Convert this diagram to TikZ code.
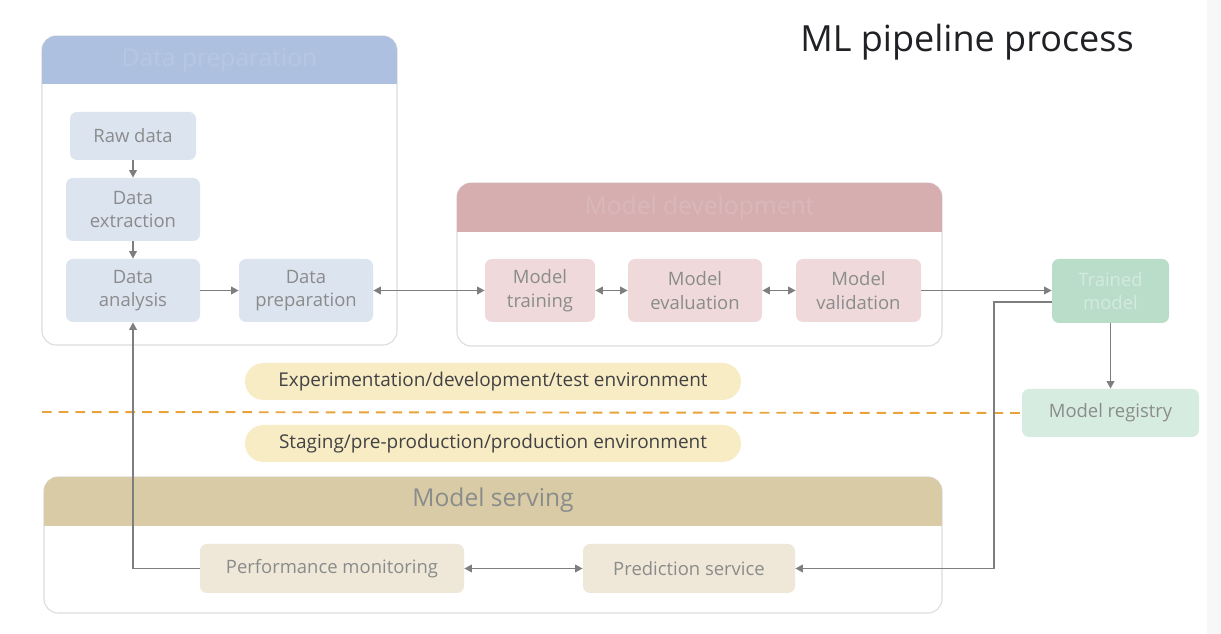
\documentclass[tikz,border=0pt]{standalone}
\usepackage{fontspec}
\setmainfont{Open Sans}
\usetikzlibrary{arrows.meta}
\definecolor{arrowgray}{HTML}{7E7E7E}
\definecolor{txtgray}{HTML}{8A8C8C}
\definecolor{panelborder}{HTML}{DCDCDC}
\definecolor{bluehead}{HTML}{ADC0DF}
\definecolor{bluetxt}{HTML}{B6C7E3}
\definecolor{bluebox}{HTML}{DCE4F0}
\definecolor{redhead}{HTML}{D7AEB0}
\definecolor{redtxt}{HTML}{D9B8BA}
\definecolor{redbox}{HTML}{EFD9DA}
\definecolor{greenbox}{HTML}{B9DDC8}
\definecolor{greentxt}{HTML}{D3EBDD}
\definecolor{greenlight}{HTML}{D7ECE1}
\definecolor{goldhead}{HTML}{D9CBA6}
\definecolor{goldbox}{HTML}{EFE7D7}
\definecolor{pill}{HTML}{F8ECC5}
\definecolor{dashorange}{HTML}{E8A33A}
\definecolor{titletxt}{HTML}{202124}
\begin{document}
\begin{tikzpicture}[x=0.02cm,y=-0.02cm,
  panel/.style={draw=panelborder, line width=0.6pt, fill=white, rounded corners=0.28cm},
  headtxt/.style={font=\fontsize{14}{16}\selectfont},
  box/.style={rounded corners=0.14cm, align=center, text=txtgray,
    font=\fontsize{10.5}{13.5}\selectfont, inner sep=0pt},
  pillbox/.style={rounded corners=0.37cm, fill=pill, text=titletxt!85,
    font=\fontsize{10.8}{13}\selectfont, minimum width=496*0.02cm, minimum height=37*0.02cm},
  arr/.style={draw=arrowgray, line width=1pt},
  tip/.style={-{Triangle[length=0.15cm,width=0.15cm]}},
  tips/.style={{Triangle[length=0.15cm,width=0.15cm]}-{Triangle[length=0.15cm,width=0.15cm]}}
]
\useasboundingbox (0,0) rectangle (1221,634);
\fill[white] (0,0) rectangle (1221,634);
\fill[black!3] (1207,0) rectangle (1221,634);

% Title
\node[font=\fontsize{20.5}{24}\selectfont, text=titletxt] (title) at (967,42) {ML pipeline process};

% ---------- Data preparation panel ----------
\node[panel, minimum width=355*0.02cm, minimum height=309*0.02cm] (dpp) at (219.5,190.5) {};
\begin{scope}
  \clip[rounded corners=0.28cm] (42,36) rectangle (397,345);
  \fill[bluehead] (42,36) rectangle (397,84);
\end{scope}
\node[headtxt, text=bluetxt] (dph) at (219.5,60) {Data preparation};

\node[box, fill=bluebox, minimum width=126*0.02cm, minimum height=48*0.02cm] (raw) at (133,136) {Raw data};
\node[box, fill=bluebox, minimum width=134*0.02cm, minimum height=63*0.02cm] (ext) at (133,209.5) {Data\\extraction};
\node[box, fill=bluebox, minimum width=134*0.02cm, minimum height=63*0.02cm] (da) at (133,290.5) {Data\\analysis};
\node[box, fill=bluebox, minimum width=134*0.02cm, minimum height=63*0.02cm] (dprep) at (306,290.5) {Data\\preparation};

% ---------- Model development panel ----------
\node[panel, minimum width=485*0.02cm, minimum height=163*0.02cm] (mdp) at (699.5,264.5) {};
\begin{scope}
  \clip[rounded corners=0.28cm] (457,183) rectangle (942,346);
  \fill[redhead] (457,183) rectangle (942,232);
\end{scope}
\node[headtxt, text=redtxt] (mdh) at (699.5,208) {Model development};

\node[box, fill=redbox, minimum width=110*0.02cm, minimum height=63*0.02cm] (mt) at (540,290.5) {Model\\training};
\node[box, fill=redbox, minimum width=134*0.02cm, minimum height=63*0.02cm] (me) at (695,290.5) {Model\\evaluation};
\node[box, fill=redbox, minimum width=125*0.02cm, minimum height=63*0.02cm] (mv) at (858.5,290.5) {Model\\validation};

% ---------- Trained model / registry ----------
\node[box, fill=greenbox, text=greentxt, minimum width=117*0.02cm, minimum height=64*0.02cm] (tm) at (1110.5,291) {Trained\\model};
\node[box, fill=greenlight, minimum width=177*0.02cm, minimum height=48*0.02cm] (mr) at (1110.5,413) {Model registry};

% ---------- Environment pills ----------
\node[pillbox] (env1) at (493,381.5) {Experimentation/development/test environment};
\node[pillbox] (env2) at (493,443.5) {Staging/pre-production/production environment};
\coordinate (dstart) at (42,412);
\draw[dashorange, line width=1.1pt, dash pattern=on 5.5pt off 4pt] (dstart) -- (mr.west);

% ---------- Model serving panel ----------
\node[panel, minimum width=898*0.02cm, minimum height=136*0.02cm] (msp) at (493,545) {};
\begin{scope}
  \clip[rounded corners=0.28cm] (44,477) rectangle (942,613);
  \fill[goldhead] (44,477) rectangle (942,526);
\end{scope}
\node[headtxt, text=txtgray] (msh) at (493,500) {Model serving};

\node[box, fill=goldbox, minimum width=264*0.02cm, minimum height=49*0.02cm] (pm) at (332,568.5) {Performance monitoring};
\node[box, fill=goldbox, minimum width=212*0.02cm, minimum height=49*0.02cm] (ps) at (689,568.5) {Prediction service};

% ---------- Connectors ----------
\draw[arr, tip] (raw) -- (ext);
\draw[arr, tip] (ext) -- (da);
\draw[arr, tip] (da) -- (dprep);
\draw[arr, tips] (dprep) -- (mt);
\draw[arr, tips] (mt) -- (me);
\draw[arr, tips] (me) -- (mv);
\draw[arr, tip] (mv.east) -- (mv.east -| tm.west);
\draw[arr, tip] (tm) -- (mr);
\draw[arr, tip] ([yshift=-0.22cm]tm.west) -- ++(-58,0) |- (ps.east);
\draw[arr, tips] (pm) -- (ps);
\draw[arr, tip] (pm.west) -| (da.south);
\end{tikzpicture}
\end{document}
